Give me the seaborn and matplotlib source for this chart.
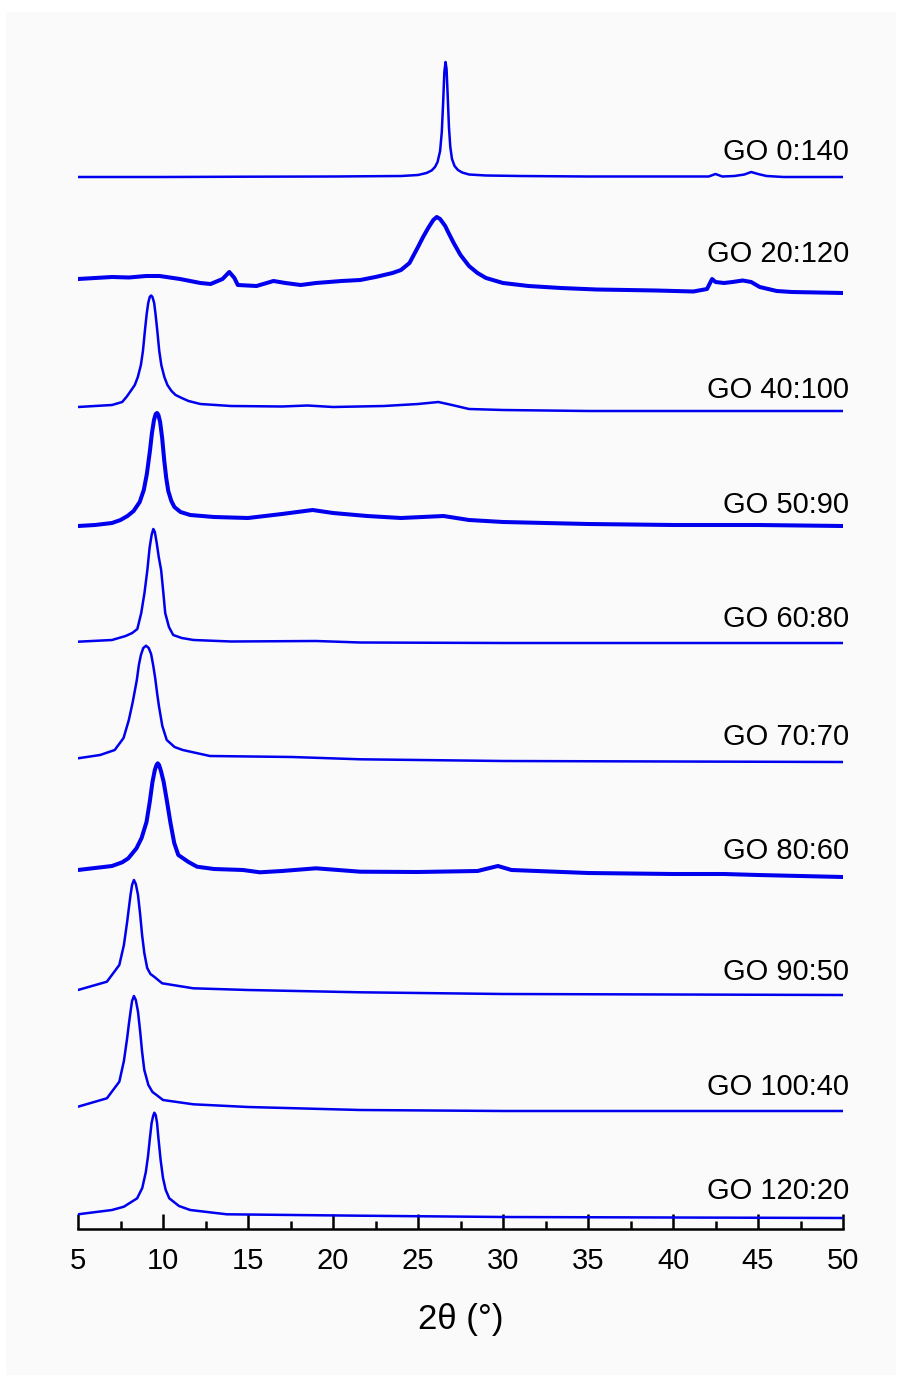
import numpy as np
import pandas as pd
import matplotlib
matplotlib.use("Agg")
import matplotlib.pyplot as plt
import seaborn as sns

# XRD patterns of GO composites: 2θ (deg) and intensity above each trace's own baseline (a.u.)
labels = ["GO 0:140", "GO 20:120", "GO 40:100", "GO 50:90", "GO 60:80",
          "GO 70:70", "GO 80:60", "GO 90:50", "GO 100:40", "GO 120:20"]

# vertical stacking offset of each trace (a.u.)
offsets = [1052, 936, 818, 703, 586, 467, 352, 234, 118, 11]
# label height above each trace's baseline (a.u.)
label_lift = [25, 39, 21, 21, 24, 25, 26, 23, 24, 27]
# noisy scans are drawn with a heavier stroke
noisy = [False, True, False, True, False, False, True, False, False, False]

tt_0_140 = [5, 10, 15, 20, 24, 25.0, 25.5, 25.8, 26.0, 26.15, 26.3, 26.4, 26.48, 26.55,
            26.62, 26.68, 26.75, 26.82, 26.9, 27.0, 27.15, 27.35, 27.6, 28, 29, 31, 35,
            42.1, 42.5, 42.9, 43.6, 44.2, 44.6, 45.0, 45.5, 46.5, 50]
i_0_140 = [0, 0, 0.3, 0.5, 1, 2, 4, 6.5, 10, 15, 26, 45, 75, 105,
           115, 108, 80, 50, 30, 18, 11, 7, 4.5, 2.5, 1.5, 1, 0.5,
           0.5, 3, 0.5, 1, 2.5, 5, 3, 1, 0, 0]

tt_20_120 = [5, 6, 7, 8, 9, 9.8, 11, 12.2, 12.8, 13.5, 13.9, 14.2, 14.4, 15.5, 16.5, 17.2,
             18.1, 19.0, 20.5, 21.6, 22.5, 23.5, 24.0, 24.5, 25.0, 25.3, 25.6, 25.9, 26.1,
             26.3, 26.6, 26.8, 27.1, 27.5, 28.0, 28.5, 29.0, 30.0, 31.5, 33.4, 35.5, 37.3,
             39, 41.2, 42.0, 42.3, 42.5, 43.0, 43.5, 44.1, 44.6, 45.1, 46.1, 47, 50]
i_20_120 = [14, 15, 16, 15.5, 17, 17, 14, 10, 9, 14, 21, 15, 8, 7, 12, 10,
            8, 10, 12, 13, 16, 20, 23, 30, 46, 56, 65, 73, 76,
            74, 67, 60, 50, 38, 27, 20, 15, 10, 7, 5, 3.5, 3,
            2.5, 1.5, 4, 14, 11, 10, 11, 12.5, 11, 6, 2, 1, 0]

tt_40_100 = [5, 7, 7.6, 7.85, 8.1, 8.34, 8.52, 8.7, 8.82, 8.94, 9.04, 9.13, 9.22, 9.3,
             9.38, 9.48, 9.56, 9.66, 9.78, 9.9, 10.08, 10.26, 10.5, 10.74, 11.1, 11.5,
             12.2, 14, 17, 18.5, 20, 23, 25, 26.2, 27, 28, 30, 35, 50]
i_40_100 = [4, 6, 9, 14, 20, 26, 34, 46, 60, 81, 97, 108, 114, 115.5,
            114, 108, 97, 81, 60, 46, 34, 26, 20, 16, 13, 10,
            7, 5, 4.5, 5.5, 4, 5, 7, 9, 6, 2, 1, 0, 0]

tt_50_90 = [5, 6, 7, 7.5, 7.91, 8.27, 8.63, 8.87, 9.05, 9.23, 9.35, 9.47, 9.57, 9.65,
            9.73, 9.83, 9.95, 10.07, 10.19, 10.31, 10.49, 10.67, 11.03, 11.6, 13, 15, 17,
            18.8, 20, 22, 24, 26.5, 28, 30, 35, 40, 45, 50]
i_50_90 = [0, 1, 3, 6, 10, 15, 24, 36, 52, 75, 93, 106, 112, 113,
           111, 104, 88, 66, 48, 35, 25, 19, 14, 11, 9, 8, 12,
           16, 13, 10, 8, 10, 6, 4, 2, 1, 1, 0]

tt_60_80 = [5, 7, 7.8, 8.19, 8.49, 8.72, 8.91, 9.08, 9.21, 9.33, 9.43, 9.52, 9.63, 9.75,
            9.89, 10.01, 10.13, 10.35, 10.6, 11.1, 11.8, 14, 19, 21.6, 30, 50]
i_60_80 = [1.3, 3, 7, 10, 14, 30, 50, 73, 95, 108, 114, 111, 100, 86,
           73, 52, 30, 16, 8, 5, 3, 1.5, 2, 0.5, 0, 0]

tt_70_70 = [5, 6.3, 7.16, 7.68, 7.99, 8.22, 8.46, 8.58, 8.7, 8.84, 9.0, 9.16, 9.3, 9.42,
            9.54, 9.66, 9.76, 9.96, 10.22, 10.68, 11.16, 12.76, 17.6, 21.6, 30, 50]
i_70_70 = [3.7, 7, 12, 24, 42, 60, 82, 97, 107, 114, 116.3, 114, 108, 97,
           84, 68, 56, 36, 22, 15, 12, 6, 5, 2.7, 1, 0]

tt_80_60 = [5, 7.0, 7.6, 7.96, 8.44, 8.74, 9.03, 9.22, 9.38, 9.52, 9.62, 9.69, 9.77, 9.88,
            10.04, 10.24, 10.43, 10.66, 10.9, 11.5, 12.0, 13, 14.7, 15.7, 17, 19.0, 21.6,
            25, 28.5, 29.7, 30.5, 35, 40, 43, 45, 50]
i_80_60 = [7, 11, 14.7, 18.7, 28.7, 39, 55, 75, 95, 107, 112, 113.7, 112, 106,
           95, 75, 55, 34, 22, 15, 10.3, 8, 7, 4.7, 6, 8.7, 5.3,
           5, 6, 11, 7, 4, 3, 3, 2, 0]

tt_90_50 = [5, 6.7, 7.43, 7.7, 7.89, 8.0, 8.09, 8.18, 8.29, 8.4, 8.53, 8.66, 8.77, 8.9,
            9.07, 9.26, 9.5, 9.95, 11.78, 15, 21.6, 30, 50]
i_90_50 = [5, 13.3, 30, 50, 73, 88, 100, 110, 115, 111, 100, 80, 60, 42,
           27, 21, 18, 11.7, 6.7, 5, 2.7, 1, 0]

tt_100_40 = [5, 6.7, 7.43, 7.7, 7.89, 8.0, 8.09, 8.18, 8.29, 8.4, 8.53, 8.66, 8.77, 8.9,
             9.14, 9.38, 9.62, 10.0, 11.78, 15, 21.6, 30, 50]
i_100_40 = [4.3, 12.7, 29.3, 50, 72.7, 88, 99.3, 110, 115, 111, 99.3, 79, 59.3, 41,
            26, 19, 16, 11, 6.7, 4, 1, 0, 0]

tt_120_20 = [5, 7.0, 7.7, 8.48, 8.78, 8.99, 9.12, 9.23, 9.33, 9.42, 9.49, 9.57, 9.65,
             9.73, 9.86, 10.0, 10.16, 10.37, 10.94, 11.6, 13.75, 21.6, 30, 50]
i_120_20 = [3.7, 8, 11.3, 19.7, 30, 46, 62, 80, 95, 102, 105.3, 103, 95,
            80, 58, 40, 28, 19.7, 12, 8, 3.7, 2.3, 1, 0]

two_theta = [tt_0_140, tt_20_120, tt_40_100, tt_50_90, tt_60_80,
             tt_70_70, tt_80_60, tt_90_50, tt_100_40, tt_120_20]
intensity = [i_0_140, i_20_120, i_40_100, i_50_90, i_60_80,
             i_70_70, i_80_60, i_90_50, i_100_40, i_120_20]

x_ticks = [5, 10, 15, 20, 25, 30, 35, 40, 45, 50]

sns.set_theme(style="white")
plt.rcParams["font.family"] = ["Liberation Sans", "DejaVu Sans"]
plt.rcParams["text.color"] = "black"
plt.rcParams["axes.labelcolor"] = "black"
plt.rcParams["xtick.color"] = "black"

W, H = 902, 1381
fig = plt.figure(figsize=(W / 100, H / 100), dpi=100, facecolor="white")
# faint paper panel behind the plot
bg = fig.add_axes([6 / W, 6 / H, 890 / W, 1363 / H], zorder=-5)
bg.set_facecolor("#fafafa")
bg.set_xticks([])
bg.set_yticks([])
for s in bg.spines.values():
    s.set_visible(False)

ax = fig.add_axes([78 / W, (H - 1229) / H, 765 / W, 1189 / H], zorder=1)
ax.set_facecolor("none")

line_color = "#0000ee"
for name, tt, inten, off, lift, nz in zip(labels, two_theta, intensity, offsets, label_lift, noisy):
    df = pd.DataFrame({"2theta": tt, "I": np.asarray(inten, float) + off})
    sns.lineplot(data=df, x="2theta", y="I", ax=ax, color=line_color,
                 lw=2.9 if nz else 1.8, estimator=None, sort=False)
    ax.text(50.35, off + lift, name, ha="right", va="center", fontsize=21,
            color="black", clip_on=False)

ax.set_xlim(5, 50)
ax.set_ylim(0, 1189)
ax.set_xticks(x_ticks)
ax.set_xticks(np.arange(7.5, 50, 5), minor=True)
ax.set_yticks([])
for s in ["top", "right", "left"]:
    ax.spines[s].set_visible(False)
ax.spines["bottom"].set_color("black")
ax.spines["bottom"].set_linewidth(1.8)
ax.tick_params(axis="x", which="major", direction="in", length=11, width=1.8,
               color="black", labelcolor="black", labelsize=21, pad=13, bottom=True)
ax.tick_params(axis="x", which="minor", direction="in", length=6, width=1.8,
               color="black", bottom=True)
ax.set_xlabel("2θ (°)", fontsize=25, labelpad=20, color="black")
ax.set_ylabel("")

fig.savefig("out.png", dpi=100, facecolor=fig.get_facecolor())
